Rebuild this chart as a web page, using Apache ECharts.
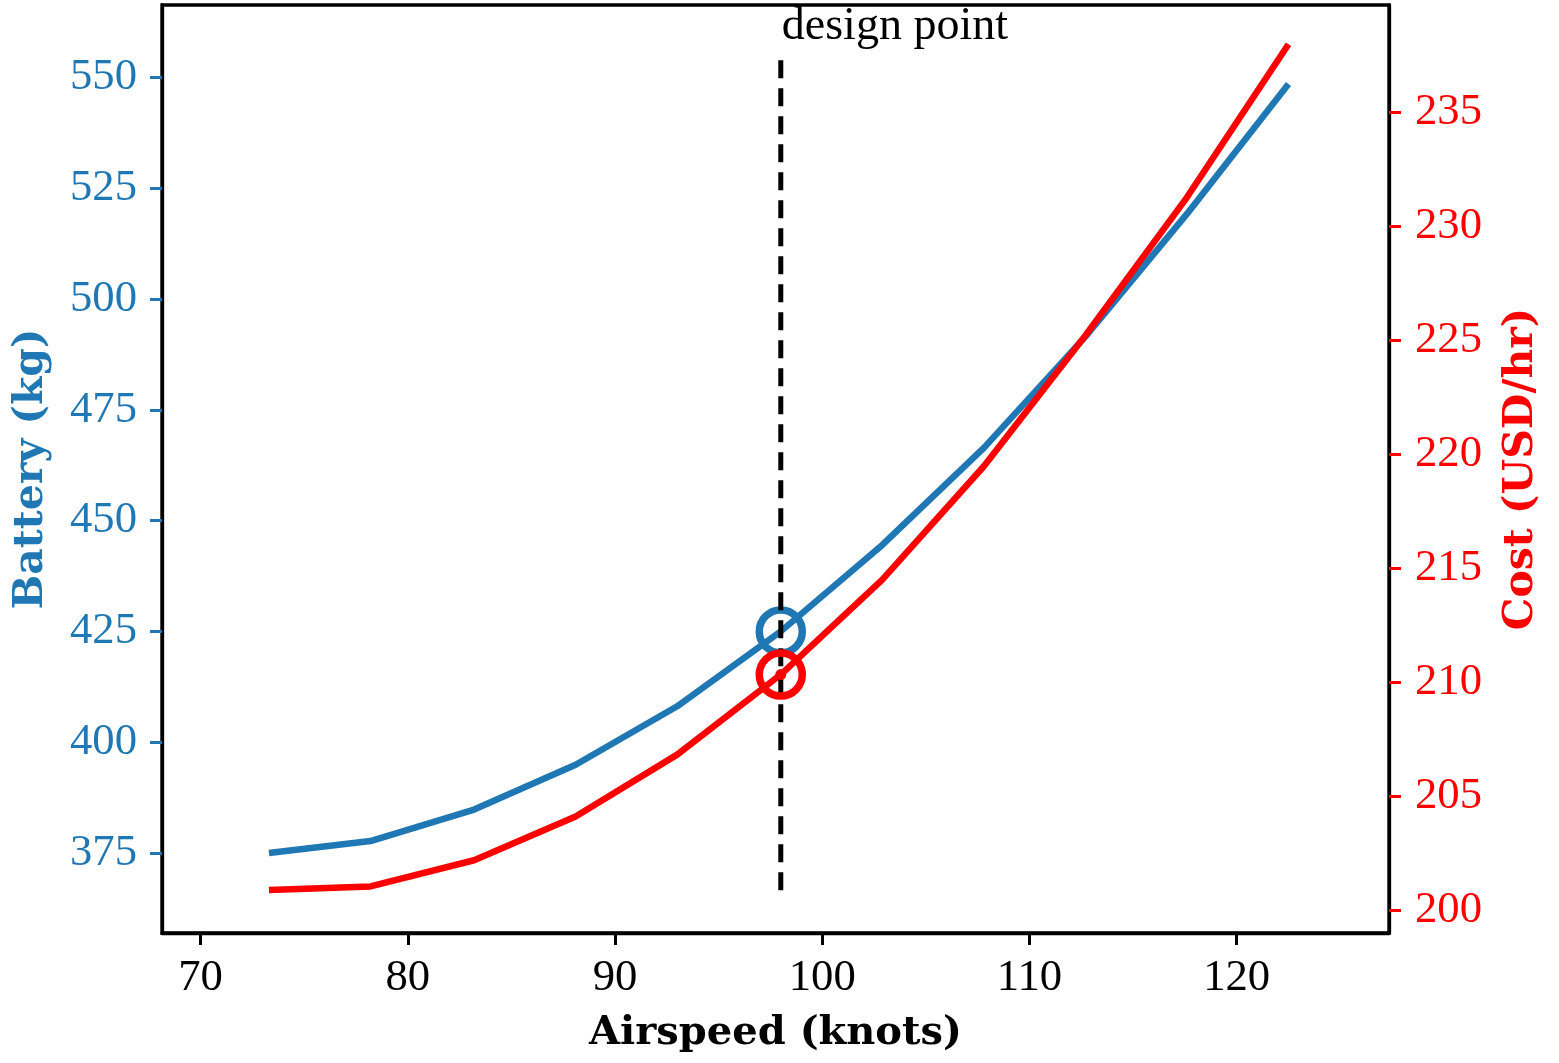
<!DOCTYPE html>
<html>
<head>
<meta charset="utf-8">
<script src="https://cdn.jsdelivr.net/npm/echarts@6/dist/echarts.min.js"></script>
<style>
  html, body { margin: 0; padding: 0; background: #ffffff; }
  #chart { width: 1559px; height: 1063px; }
</style>
</head>
<body>
<div id="chart"></div>
<script>
// ---- data ----
const airspeed = [73.3, 78.2, 83.2, 88.1, 93.0, 98.0, 102.9, 107.8, 112.7, 117.6, 122.5];
const battery  = [375.0, 377.7, 384.8, 394.9, 408.1, 425.0, 444.5, 466.4, 491.5, 519.2, 548.5];
const cost     = [200.9, 201.05, 202.2, 204.12, 206.83, 210.34, 214.5, 219.47, 225.2, 231.26, 237.97];

const designSpeed = 98.0;
const designBattery = 425.0;
const designCost = 210.34;
const designLineSpan = [366.6, 555.1];   // battery-axis extent of the dashed line
const designLabel = 'design point';

const xTicks = [70, 80, 90, 100, 110, 120];
const batteryTicks = [375, 400, 425, 450, 475, 500, 525, 550];
const costTicks = [200, 205, 210, 215, 220, 225, 230, 235];

const xRange = [68.14, 127.35];
const batteryRange = [356.95, 566.33];
const costRange = [199.01, 239.69];

// ---- styles ----
const BLUE = '#1f77b4';
const RED = '#ff0000';
const REG = '"Liberation Serif", "Times New Roman", serif';
const BOLD = '"DejaVu Serif", serif';

const chart = echarts.init(document.getElementById('chart'), null, { renderer: 'canvas' });

const option = {
  animation: false,
  backgroundColor: '#ffffff',
  grid: {
    left: 162, right: 170, top: 5, bottom: 130,
    show: true, borderColor: '#000000', borderWidth: 3.3, backgroundColor: 'transparent'
  },
  xAxis: {
    type: 'value', min: xRange[0], max: xRange[1],
    name: 'Airspeed (knots)', nameLocation: 'middle', nameGap: 81,
    nameTextStyle: { fontFamily: BOLD, fontWeight: 'bold', fontSize: 40, color: '#000' },
    axisLine: { show: true, lineStyle: { color: '#000', width: 3.3 } },
    axisTick: { show: true, inside: false, length: 12, lineStyle: { color: '#000', width: 3 }, customValues: xTicks },
    axisLabel: { show: true, customValues: xTicks, fontFamily: REG, fontSize: 44.7, color: '#000', margin: 23 },
    splitLine: { show: false }
  },
  yAxis: [
    {
      type: 'value', position: 'left', min: batteryRange[0], max: batteryRange[1],
      name: 'Battery (kg)', nameLocation: 'middle', nameGap: 110, nameRotate: 90,
      nameTextStyle: { fontFamily: BOLD, fontWeight: 'bold', fontSize: 41, color: BLUE },
      axisLine: { show: true, lineStyle: { color: '#000', width: 3.3 } },
      axisTick: { show: true, inside: false, length: 12, lineStyle: { color: BLUE, width: 3 }, customValues: batteryTicks },
      axisLabel: { show: true, customValues: batteryTicks, fontFamily: REG, fontSize: 44.7, color: BLUE, margin: 25, padding: [4, 0, 0, 0] },
      splitLine: { show: false }
    },
    {
      type: 'value', position: 'right', min: costRange[0], max: costRange[1],
      name: 'Cost (USD/hr)', nameLocation: 'middle', nameGap: 112, nameRotate: 90,
      nameTextStyle: { fontFamily: BOLD, fontWeight: 'bold', fontSize: 41, color: RED },
      axisLine: { show: true, lineStyle: { color: '#000', width: 3.3 } },
      axisTick: { show: true, inside: false, length: 12, lineStyle: { color: RED, width: 3 }, customValues: costTicks },
      axisLabel: { show: true, customValues: costTicks, fontFamily: REG, fontSize: 44.7, color: RED, margin: 26, padding: [4, 0, 0, 0] },
      splitLine: { show: false }
    }
  ],
  series: [
    {
      name: 'Battery', type: 'line', yAxisIndex: 0, z: 2, silent: true,
      showSymbol: false, symbol: 'none',
      data: airspeed.map((x, i) => [x, battery[i]]),
      lineStyle: { color: BLUE, width: 6.5, cap: 'butt', join: 'round' }
    },
    {
      name: 'Cost', type: 'line', yAxisIndex: 1, z: 3, silent: true,
      showSymbol: false, symbol: 'none',
      data: airspeed.map((x, i) => [x, cost[i]]),
      lineStyle: { color: RED, width: 6.5, cap: 'butt', join: 'round' }
    },
    {
      name: 'Design line', type: 'line', yAxisIndex: 0, z: 4, silent: true,
      showSymbol: false, symbol: 'none',
      data: [[designSpeed, designLineSpan[0]], [designSpeed, designLineSpan[1]]],
      lineStyle: { color: '#000', width: 5, type: [18, 10], cap: 'butt' },
      markPoint: {
        silent: true, animation: false,
        symbol: 'circle', symbolSize: 0,
        data: [{ coord: [designSpeed, designLineSpan[1]], value: 0 }],
        label: {
          show: true, formatter: designLabel, position: 'right', distance: 1, offset: [0, -28],
          fontFamily: REG, fontSize: 46, color: '#000'
        }
      }
    },
    {
      name: 'Design battery', type: 'scatter', yAxisIndex: 0, z: 3, silent: true,
      symbol: 'circle', symbolSize: 43,
      data: [[designSpeed, designBattery]],
      itemStyle: { color: 'rgba(0,0,0,0)', borderColor: BLUE, borderWidth: 7.5, opacity: 1 }
    },
    {
      name: 'Design cost', type: 'scatter', yAxisIndex: 1, z: 5, silent: true,
      symbol: 'circle', symbolSize: 43,
      data: [[designSpeed, designCost]],
      itemStyle: { color: 'rgba(0,0,0,0)', borderColor: RED, borderWidth: 7.5, opacity: 1 }
    },
    {
      name: 'Design cost dot', type: 'scatter', yAxisIndex: 1, z: 5, silent: true,
      symbol: 'circle', symbolSize: 11,
      data: [[designSpeed, designCost]],
      itemStyle: { color: RED, opacity: 1 }
    }
  ]
};

chart.setOption(option);
</script>
</body>
</html>
